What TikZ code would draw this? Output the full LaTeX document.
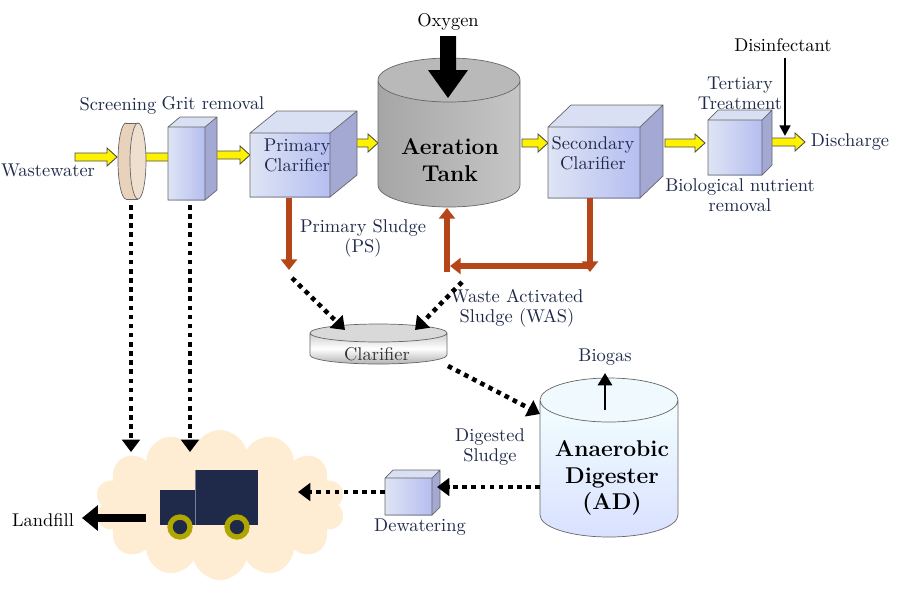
\documentclass[tikz,border=0pt]{standalone}
\usetikzlibrary{arrows.meta,shapes.symbols}
\definecolor{txt}{HTML}{1F2A4A}
\definecolor{brn}{HTML}{B5461A}
\definecolor{boxf}{HTML}{C9D3EE}
\definecolor{boxs}{HTML}{8C93C8}
\newcommand\myyarrow[3]{\filldraw[fill=yellow,draw=black!70,line width=0.5pt] (#1,#3-4)--(#2-10,#3-4)--(#2-10,#3-9)--(#2,#3)--(#2-10,#3+9)--(#2-10,#3+4)--(#1,#3+4)--cycle;}
\newcommand\mybox[6]{% x1 y1 x2 y2 dx dy
 \fill[boxs!80] (#3,#2)--(#3+#5,#2-#6)--(#3+#5,#4-#6)--(#3,#4)--cycle;
 \fill[boxf!70!white] (#1,#2)--(#1+#5,#2-#6)--(#3+#5,#2-#6)--(#3,#2)--cycle;
 \shade[left color=boxf!60!white,right color=boxf!90!blue] (#1,#2) rectangle (#3,#4);
 \draw[black!60,line width=0.4pt] (#1,#2) rectangle (#3,#4) (#1,#2)--(#1+#5,#2-#6)--(#3+#5,#2-#6)--(#3+#5,#4-#6)--(#3,#4) (#3,#2)--(#3+#5,#2-#6);}
\begin{document}
\begin{tikzpicture}[x=0.02cm,y=-0.02cm,
 lab/.style={text=txt,font=\fontsize{10.5}{11.5}\selectfont,align=center,inner sep=0},
 dots/.style={line width=2.6pt,dash pattern=on 2.6pt off 2.6pt,-{Triangle[length=7pt,width=10pt]}},
 brarr/.style={brn,line width=3pt,-{Triangle[length=6pt,width=9pt]}}]
\useasboundingbox (0,0) rectangle (900,600);
% cloud
\node[cloud,cloud puffs=14,aspect=1.8,inner sep=0,minimum width=5cm,minimum height=3cm,
  fill=yellow!10!orange!15!white,draw=none] (cloud) at (220,505) {};
% yellow arrows
\myyarrow{75}{117}{157}
\myyarrow{143}{183}{157}
\myyarrow{213}{250}{155}
\myyarrow{342}{378}{143}
\myyarrow{522}{548}{143}
\myyarrow{665}{705}{143}
\myyarrow{765}{805}{142}
\node[lab] (ww) at (48,170) {Wastewater};
% screening disc
\filldraw[fill=brown!35!white,draw=black!60] (126,161) ellipse (8 and 38);
\fill[brown!35!white] (126,123) rectangle (138,199);
\draw[black!60] (126,123)--(138,123) (126,199)--(138,199);
\filldraw[fill=brown!25!white,draw=black!60] (138,161) ellipse (8 and 38);
\coordinate (scr) at (131,205);
\node[lab] (scrl) at (118,106) {Screening};
% grit
\mybox{168}{127}{205}{200}{12}{10}
\coordinate (grit) at (190,205);
\node[lab] (gritl) at (213,103) {Grit removal};
% primary clarifier
\mybox{250}{133}{330}{197}{27}{22}
\node[lab] (pc) at (297,155) {Primary\\Clarifier};
% aeration tank
\shade[left color=gray!70,right color=gray!45] (378,80) -- (378,185) arc[start angle=180,end angle=0,x radius=71,y radius=22] -- (520,80) -- cycle;
\fill[gray!55] (449,80) ellipse (71 and 22);
\draw[black!60] (378,80)--(378,185) arc[start angle=180,end angle=0,x radius=71,y radius=22] --(520,80) (449,80) ellipse (71 and 22);
\node[lab,font=\bfseries\fontsize{13}{15}\selectfont,text=black] (at) at (450,160) {Aeration\\Tank};
\node[lab,text=black] (ox) at (448,22) {Oxygen};
\fill[black] (440,36)--(456,36)--(456,70)--(468,70)--(448,98)--(428,70)--(440,70)--cycle;
% secondary clarifier
\mybox{548}{127}{640}{198}{23}{22}
\node[lab] (sc) at (593,153) {Secondary\\Clarifier};
% tertiary
\mybox{708}{120}{762}{175}{10}{10}
\node[lab] (tt) at (740,93) {Tertiary\\Treatment};
\node[lab] (bnr) at (740,195) {Biological nutrient\\removal};
\node[lab,text=black] (dis) at (783,45) {Disinfectant};
\coordinate (disa) at (785,58); \coordinate (disb) at (785,136);
\draw[line width=1.5pt,-{Triangle[length=6pt,width=6pt]}] (disa)--(disb);
\node[lab] (dch) at (850,142) {Discharge};
% brown sludge lines
\coordinate (pcb) at (289,198); \coordinate (pcc) at (289,270);
\draw[brarr] (pcb)--(pcc);
\coordinate (scb) at (590,198); \coordinate (scc) at (590,272);
\draw[brarr] (scb)--(scc);
\coordinate (h1) at (588,266); \coordinate (h2) at (450,266);
\draw[brarr] (h1)--(h2);
\coordinate (ab) at (447,272); \coordinate (at2) at (447,208);
\draw[brarr] (ab)--(at2);
\node[lab] (psl) at (363,238) {Primary Sludge\\(PS)};
\node[lab] (was) at (517,308) {Waste Activated\\Sludge (WAS)};
% clarifier disk
\shade[top color=gray!40,bottom color=gray!60,middle color=white] (310,333)--(310,355) arc[start angle=180,end angle=0,x radius=68.5,y radius=9]--(447,333)--cycle;
\fill[gray!30] (378.5,333) ellipse (68.5 and 9);
\draw[black!60] (310,333)--(310,355) arc[start angle=180,end angle=0,x radius=68.5,y radius=9]--(447,333) (378.5,333) ellipse (68.5 and 9);
\node[lab,text=black!80] (clar) at (377,354) {Clarifier};
\coordinate (c1) at (345,330); \coordinate (c2) at (415,330); \coordinate (c3) at (448,366);
\coordinate (p1) at (292,278); \coordinate (p2) at (462,282);
\draw[dots] (p1)--(c1);
\draw[dots] (p2)--(c2);
% AD
\shade[top color=cyan!5,bottom color=cyan!20!blue!15] (540,400)--(540,515) arc[start angle=180,end angle=0,x radius=69,y radius=22]--(678,400)--cycle;
\fill[cyan!6] (609,400) ellipse (69 and 22);
\draw[black!60] (540,400)--(540,515) arc[start angle=180,end angle=0,x radius=69,y radius=22]--(678,400) (609,400) ellipse (69 and 22);
\node[lab,font=\bfseries\fontsize{13}{15}\selectfont,text=black] (ad) at (612,478) {Anaerobic\\Digester\\(AD)};
\coordinate (adl) at (540,414);
\draw[dots] (c3)--(adl);
\coordinate (bga) at (605,410); \coordinate (bgb) at (605,373);
\draw[line width=1.5pt,-{Triangle[length=7pt,width=8pt]}] (bga)--(bgb);
\node[lab] (bg) at (605,357) {Biogas};
\node[lab] (dsl) at (490,447) {Digested\\Sludge};
% dewatering
\mybox{385}{478}{432}{515}{8}{8}
\node[lab] (dew) at (420,527) {Dewatering};
\coordinate (ad2) at (540,487); \coordinate (dwr) at (437,487);
\draw[dots] (ad2)--(dwr);
\coordinate (dwl) at (385,492); \coordinate (trk) at (298,492);
\draw[dots] (dwl)--(trk);
% truck
\fill[txt] (195,470) rectangle (258,525);
\fill[txt] (160,490) rectangle (195,525);
\draw[txt!60,line width=0.4pt] (195,470)--(195,525);
\foreach \xx in {180,237}{\filldraw[fill=txt,draw=olive!70!yellow,line width=3pt] (\xx,527) circle (10);}
% screening/grit dots
\coordinate (cl1) at (131,452); \coordinate (cl2) at (190,452);
\draw[dots] (scr)--(cl1);
\draw[dots] (grit)--(cl2);
% landfill
\coordinate (lfa) at (146,518); \coordinate (lfb) at (82,518);
\draw[line width=5pt,-{Triangle[length=9pt,width=14pt]}] (lfa)--(lfb);
\node[lab,text=black] (lf) at (43,520) {Landfill};
\end{tikzpicture}
\end{document}
